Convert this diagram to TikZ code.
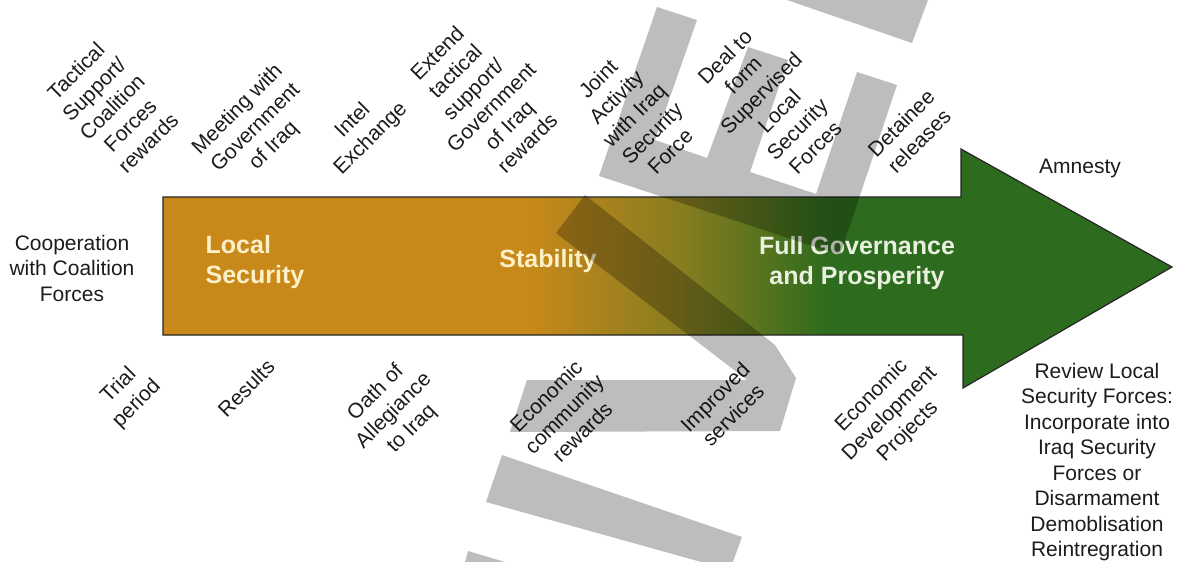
\documentclass[tikz,border=0pt]{standalone}
\usepackage{fontspec}
\setmainfont{Liberation Sans}
\definecolor{orng}{RGB}{201,137,26}
\definecolor{olv}{RGB}{132,124,32}
\definecolor{grn}{RGB}{45,107,30}
\definecolor{lbl}{RGB}{28,28,28}
\definecolor{cream}{RGB}{252,240,200}
\definecolor{palegrn}{RGB}{232,240,222}
\pgfdeclarehorizontalshading{arrowshade}{100bp}{color(0bp)=(orng); color(43bp)=(orng); color(51bp)=(olv); color(58bp)=(grn); color(100bp)=(grn)}
\begin{document}
\begin{tikzpicture}[x=1pt,y=-1pt,
  lab/.style={font=\fontsize{21}{25.5}\selectfont, text=lbl, align=center, inner sep=0pt},
  dlab/.style={lab, rotate=45},
  big/.style={font=\fontsize{25}{30}\selectfont\bfseries, inner sep=0pt},
  wm/.style={fill=black, fill opacity=0.26}]
\useasboundingbox[fill=white] (0,0) rectangle (1181,562);
% arrow
\shadedraw[shading=arrowshade, draw=black!85, line width=1.2pt]
  (163,197) -- (961,197) -- (961,149) -- (1172,267) -- (963,388) -- (963,335) -- (163,335) -- cycle;
% texts inside the arrow
\node[big, text=cream, align=left] (locsec) at (255,262) {Local\\Security};
\node[big, text=cream] (stab) at (548,261) {Stability};
\node[big, text=palegrn, align=center] (fullgov) at (857,263) {Full Governance\\and Prosperity};
% side texts
\node[lab] (coop) at (72,268) {Cooperation\\with Coalition\\Forces};
\node[lab] (amnesty) at (1080,168) {Amnesty};
\node[lab] (review) at (1097,462) {Review Local\\Security Forces:\\Incorporate into\\Iraq Security\\Forces or\\Disarmament\\Demoblisation\\Reintregration};
% top labels
\node[dlab] (t1) at (112,107) {Tactical\\Support/\\Coalition\\Forces\\rewards};
\node[dlab] (t2) at (256,128) {Meeting with\\Government\\of Iraq};
\node[dlab] (t3) at (362,130) {Intel\\Exchange};
\node[dlab] (t4) at (482,98) {Extend\\tactical\\support/\\Government\\of Iraq\\rewards};
\node[dlab] (t5) at (634,115) {Joint\\Activity\\with Iraq\\Security\\Force};
\node[dlab] (t6) at (770,102) {Deal to\\form\\Supervised\\Local\\Security\\Forces};
\node[dlab] (t7) at (910,132) {Detainee\\releases};
% bottom labels
\node[dlab] (b1) at (128,395) {Trial\\period};
\node[dlab] (b2) at (246,388) {Results};
\node[dlab] (b3) at (394,411) {Oath of\\Allegiance\\to Iraq};
\node[dlab] (b4) at (564,414) {Economic\\community\\rewards};
\node[dlab] (b5) at (724,406) {Improved\\services};
\node[dlab] (b6) at (890,414) {Economic\\Development\\Projects};
% watermark shapes
\fill[wm] (657,7) -- (697,20) -- (655,140) -- (707,158) -- (748,47) -- (788,60) -- (750,172) -- (816,194) -- (857,72) -- (897,85) -- (840,255) -- (599,176) -- cycle;
\fill[wm] (787,0) -- (928,0) -- (912,43) -- cycle;
\fill[wm] (585,195) -- (775,345) -- (796,378) -- (780,431) -- (510,432) -- (527,380) -- (747,380) -- (556,233) -- cycle;
\fill[wm] (502,455) -- (742,537) -- (730,570) -- (486,502) -- cycle;
\fill[wm] (468,551) -- (505,562) -- (465,562) -- cycle;
\end{tikzpicture}
\end{document}
